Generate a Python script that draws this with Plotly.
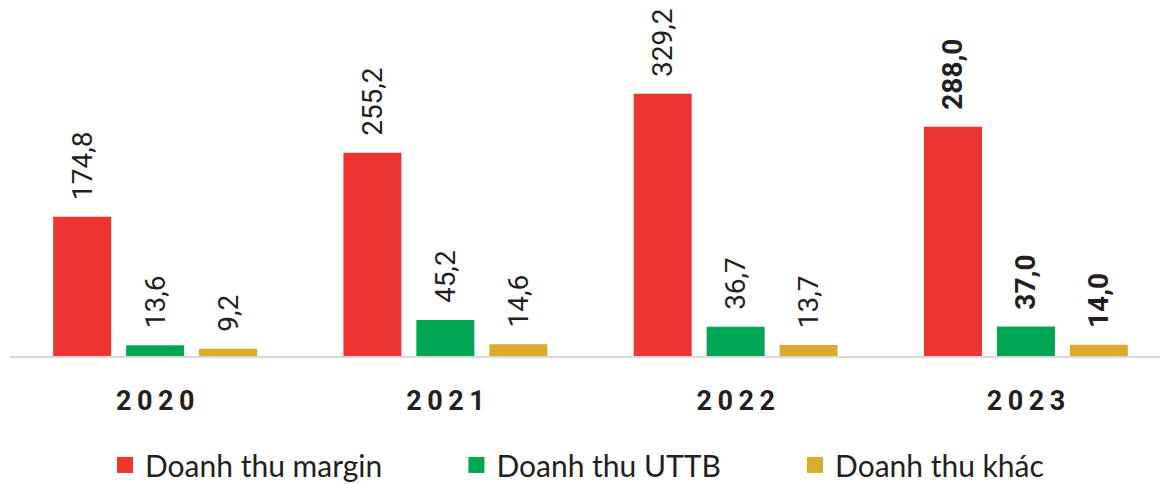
import plotly.graph_objects as go

years = ["2020", "2021", "2022", "2023"]
margin_rev = [174.8, 255.2, 329.2, 288.0]
uttb_rev = [13.6, 45.2, 36.7, 37.0]
other_rev = [9.2, 14.6, 13.7, 14.0]
series_names = ["Doanh thu margin", "Doanh thu UTTB", "Doanh thu khác"]
colors = ["#ee3431", "#00a651", "#dcaa2a"]
bold_years = ["2023"]

def labels(vals):
    out = []
    for y, v in zip(years, vals):
        s = f"{v:.1f}".replace(".", ",")
        if y in bold_years:
            s = f"<b>{s}</b>"
        out.append("\u00a0\u00a0" + s)
    return out

tick_text = ["<b>" + "\u2009".join(list(y)) + "</b>" for y in years]

fig = go.Figure()
for i, (name, vals, col) in enumerate(zip(series_names, [margin_rev, uttb_rev, other_rev], colors)):
    fig.add_trace(go.Bar(
        x=years, y=vals, name=name, marker_color=col, marker_line_width=0,
        text=labels(vals), textposition="outside", textangle=-90,
        constraintext="none", cliponaxis=False, showlegend=False,
        legendgroup=name,
        textfont=dict(family="Roboto", size=28, color="#231f20"),
    ))
for i, (name, col) in enumerate(zip(series_names, colors)):
    pad = "\u00a0" * 9 if i < len(series_names) - 1 else ""
    fig.add_trace(go.Scatter(
        x=[None], y=[None], mode="markers", name=name + pad,
        legendgroup=name,
        marker=dict(symbol="square", size=16, color=col),
    ))

fig.update_layout(
    width=1160, height=484,
    margin=dict(l=10, r=0, t=0, b=128, autoexpand=False),
    barmode="group", bargap=0.246, bargroupgap=0.205,
    plot_bgcolor="white", paper_bgcolor="white",
    showlegend=True,
    legend=dict(orientation="h", x=(105 - 10) / 1150, xanchor="left", y=-0.306, yanchor="middle",
                font=dict(family="Lato", size=30, color="#231f20"),
                itemwidth=30),
    xaxis=dict(tickmode="array", tickvals=years, ticktext=tick_text, range=[-0.5, 3.462],
               showline=True, linecolor="#d9d9d9", linewidth=2, ticks="",
               ticklabelstandoff=20, showgrid=False,
               tickfont=dict(family="Roboto", size=27, color="#231f20")),
    yaxis=dict(range=[0, 447], visible=False, showgrid=False, zeroline=False),
)

fig.write_html("out.html", config={"displayModeBar": False},
               post_script="document.body.style.margin='0';")
